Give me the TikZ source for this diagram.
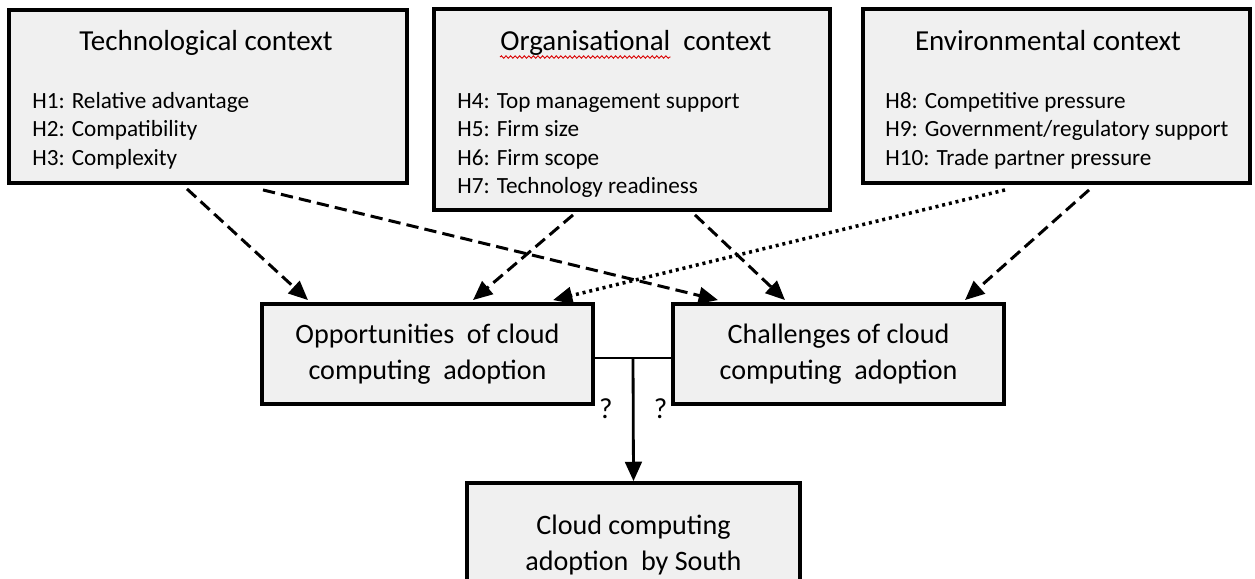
\documentclass[tikz,border=0pt]{standalone}
\usepackage{fontspec}
\setmainfont{Carlito}
\usepackage{tikz}
\usetikzlibrary{arrows.meta,positioning,decorations.pathmorphing}

\tikzset{
  ctxbox/.style={draw,rectangle,line width=2.2pt,fill=black!6,inner sep=0pt},
  ctxtitle/.style={inner sep=0pt,font=\fontsize{16.5}{20}\selectfont},
  ctxlist/.style={inner sep=0pt,align=left,font=\fontsize{13.2}{16.2}\selectfont},
  outbox/.style={draw,rectangle,line width=2.2pt,fill=black!6,minimum width=6.62cm,align=center,font=\fontsize{16}{20.4}\selectfont},
  infl/.style={line width=1.7pt,dash pattern=on 7pt off 3.5pt,-{Triangle[length=11pt,width=9.5pt]}},
  weakinfl/.style={line width=2pt,dash pattern=on 1.7pt off 2.2pt,-{Triangle[length=11pt,width=9.5pt]}},
  qmark/.style={inner sep=0pt,font=\fontsize{16.5}{20}\selectfont},
  spellwave/.style={red!85!black,line width=0.5pt,decorate,decoration={snake,amplitude=0.7pt,segment length=2.6pt}}
}

\begin{document}
\begin{tikzpicture}[x=0.2mm,y=-0.2mm]
\useasboundingbox (0,0) rectangle (1255,578);

% three contexts
\node [ctxbox,minimum width=7.96cm,minimum height=3.46cm] (tech) at(208,96.5){};
\node [ctxbox,minimum width=7.92cm,minimum height=4.02cm] (org) at(632,109.5){};
\node [ctxbox,minimum width=7.74cm,minimum height=3.48cm] (env) at(1056.5,96){};

\node [ctxtitle,anchor=base] (techtitle) at(206,50){Technological context};
\node [ctxtitle,anchor=base west] (orgword) at(500,50){Organisational};
\node [ctxtitle,anchor=base west] (orgtitle) at(683,50){context};
\node [ctxtitle,anchor=base] (envtitle) at(1048,50){Environmental context};
\draw[spellwave] ([yshift=-4pt]orgword.base west) -- ([yshift=-4pt]orgword.base east);

% base = last line
\node [ctxlist,anchor=base west] (techlist) at(32,165){H1: Relative advantage\\H2: Compatibility\\H3: Complexity};
\node [ctxlist,anchor=base west] (orglist) at(457,193.5){H4: Top management support\\H5: Firm size\\H6: Firm scope\\H7: Technology readiness};
\node [ctxlist,anchor=base west] (envlist) at(885,165){H8: Competitive pressure\\H9: Government/regulatory support\\H10: Trade partner pressure};

% opportunities / challenges
\node [outbox,minimum height=2cm] (opp) at(427.5,354){Opportunities\ \ of cloud\\computing\ \ adoption};
\node [outbox,minimum height=2cm] (chal) at(838.5,354){Challenges of cloud\\computing\ \ adoption};
\node [outbox,minimum width=6.66cm,minimum height=2.48cm] (south) at(633.5,545){Cloud computing\\adoption\ \ by South};

\draw[infl] ([shift={(-21,4)}]tech.south) -- ([shift={(-119.5,-2)}]opp.north);
\draw[infl] ([shift={(55,5)}]tech.south) -- ([shift={(-120.5,-2)}]chal.north);
\draw[infl] ([shift={(-59,3)}]org.south) -- ([shift={(45.5,-2)}]opp.north);
\draw[infl] ([shift={(63,3)}]org.south) -- ([shift={(-53.5,-2)}]chal.north);
\draw[weakinfl] ([shift={(-51.5,5)}]env.south) -- ([shift={(125.5,-2)}]opp.north);
\draw[infl] ([shift={(32.5,5)}]env.south) -- ([shift={(126.5,-2)}]chal.north);

\draw[line width=1.6pt] ([yshift=-2.3pt]opp.east) -- coordinate (jn) ([yshift=-2.3pt]chal.west);
\draw[line width=1.6pt,-{Triangle[length=11pt,width=9.5pt]}] (jn) -- node[qmark,pos=0.41,left=11pt] (qa){?} node[qmark,pos=0.41,right=11pt] (qb){?} (south.north);

\end{tikzpicture}
\end{document}
